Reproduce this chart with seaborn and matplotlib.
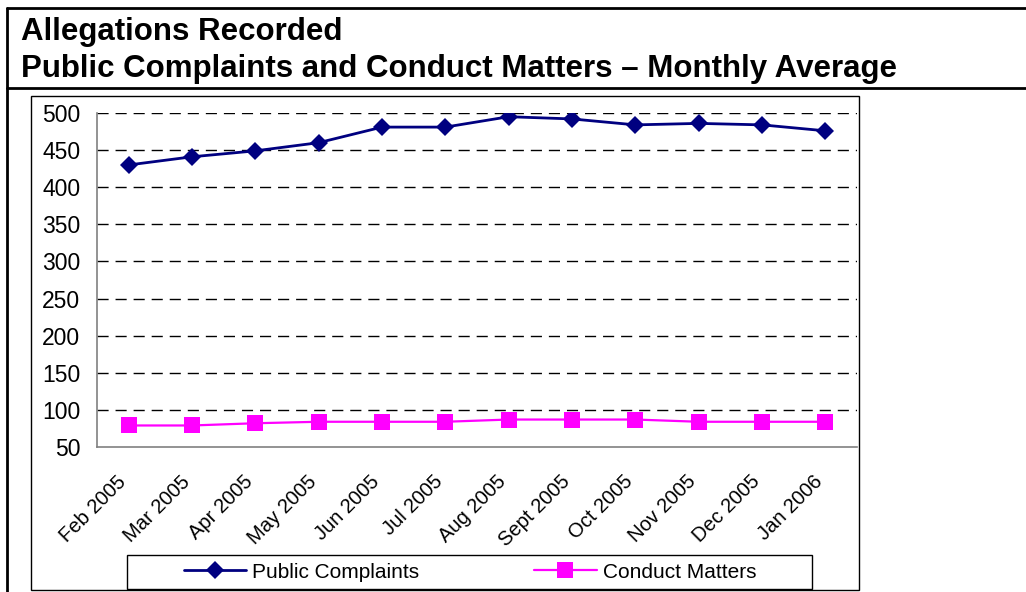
# %%
# === Load modules ===
import numpy as np
import pandas as pd
import seaborn as sns
import matplotlib.pyplot as plt
import matplotlib.transforms as mtransforms
from matplotlib.patches import Rectangle
from matplotlib.lines import Line2D
from matplotlib.ticker import FixedLocator

# %%
# === Data ===
MONTHS      = ['Feb 2005', 'Mar 2005', 'Apr 2005', 'May 2005', 'Jun 2005', 'Jul 2005',
               'Aug 2005', 'Sept 2005', 'Oct 2005', 'Nov 2005', 'Dec 2005', 'Jan 2006']
PUBLIC      = [430, 441, 449, 460, 481, 481, 495, 492, 484, 486, 484, 476]
CONDUCT     = [79, 79, 82, 84, 84, 84, 87, 87, 87, 84, 84, 84]
SERIES      = ['Public Complaints', 'Conduct Matters']
Y_TICKS     = [50, 100, 150, 200, 250, 300, 350, 400, 450, 500]
TITLE_1     = 'Allegations Recorded'
TITLE_2     = 'Public Complaints and Conduct Matters \u2013 Monthly Average'

df = pd.concat([
    pd.DataFrame({'month': MONTHS, 'value': PUBLIC, 'series': SERIES[0]}),
    pd.DataFrame({'month': MONTHS, 'value': CONDUCT, 'series': SERIES[1]}),
], ignore_index=True)

# %%
# === Figure ===
sns.set_theme(style='white')
plt.rcParams['font.family'] = ['Liberation Sans', 'DejaVu Sans']
plt.rcParams['text.color'] = 'black'
plt.rcParams['xtick.labelcolor'] = 'black'
plt.rcParams['ytick.labelcolor'] = 'black'

W, H = 1026, 592
fig = plt.figure(figsize=(W / 100, H / 100), dpi=100)
fig.patch.set_facecolor('white')

def fx(px):
    return px / W

def fy(py):
    return 1 - py / H

# outer frame of the title block
fig.add_artist(Line2D([fx(7), fx(7)], [fy(8), fy(600)], color='black', lw=2))
fig.add_artist(Line2D([fx(7), 1.0], [fy(8), fy(8)], color='black', lw=2))
fig.add_artist(Line2D([fx(7), 1.0], [fy(88), fy(88)], color='black', lw=2))

fig.text(fx(21), fy(40), TITLE_1, fontsize=22.5, fontweight='bold', ha='left', va='baseline')
fig.text(fx(21), fy(77), TITLE_2, fontsize=22.5, fontweight='bold', ha='left', va='baseline')

# chart area box
fig.add_artist(Rectangle((fx(31), fy(590)), fx(859) - fx(31), fy(96) - fy(590),
                         fill=False, edgecolor='black', lw=1))

ax = fig.add_axes([fx(97), fy(447), fx(857) - fx(97), fy(113) - fy(447)])

sns.lineplot(
    data=df, x='month', y='value', hue='series', style='series',
    palette={SERIES[0]: '#000080', SERIES[1]: '#FF00FF'},
    markers={SERIES[0]: 'D', SERIES[1]: 's'},
    dashes=False, markersize=9, linewidth=2, markeredgewidth=0,
    sort=False, ax=ax, legend=True,
)
# bigger squares, thinner line for conduct matters
for line in ax.lines:
    if line.get_color() in ('#FF00FF', '#ff00ff'):
        line.set_markersize(12)
        line.set_linewidth(1.6)

ax.set_xlim(-0.5, len(MONTHS) - 0.5)
ax.set_ylim(50, 500)
ax.set_yticks(Y_TICKS)
ax.set_xlabel('')
ax.set_ylabel('')

# dashed gridlines
for v in Y_TICKS[1:]:
    ax.axhline(v, color='black', lw=1, dashes=(8, 5), zorder=0)

# axes spines
for s in ['top', 'right']:
    ax.spines[s].set_visible(False)
for s in ['left', 'bottom']:
    ax.spines[s].set_color('#808080')
    ax.spines[s].set_linewidth(1.2)

# category ticks between months (Excel style)
ax.xaxis.set_major_locator(FixedLocator(np.arange(len(MONTHS))))
ax.set_xticklabels(MONTHS, rotation=45, ha='right', rotation_mode='anchor', fontsize=14.5)
ax.tick_params(axis='x', which='major', length=0, pad=10)
ax.xaxis.set_minor_locator(FixedLocator(np.arange(len(MONTHS) + 1) - 0.5))
ax.tick_params(axis='x', which='minor', length=6, color='#404040', width=1, direction='out')
ax.tick_params(axis='y', length=7, color='#404040', width=1, direction='out', labelsize=16.5, pad=5)

# nudge rotated labels left/down like the original
shift = mtransforms.ScaledTranslation(-12 / 100, -11 / 100, fig.dpi_scale_trans)
for lbl in ax.get_xticklabels():
    lbl.set_transform(lbl.get_transform() + shift)

# legend
handles, labels = ax.get_legend_handles_labels()
ax.get_legend().remove()
fig.add_artist(Rectangle((fx(127), fy(589)), fx(812) - fx(127), fy(555) - fy(589),
                         fill=False, edgecolor='black', lw=1))
leg = fig.legend(handles, labels, loc='center', bbox_to_anchor=(fx(470), fy(572)),
                 ncol=2, frameon=False, borderaxespad=0, fontsize=15,
                 handlelength=3.0, handletextpad=0.3, columnspacing=5.5)

fig.savefig('out.png', dpi=100)
